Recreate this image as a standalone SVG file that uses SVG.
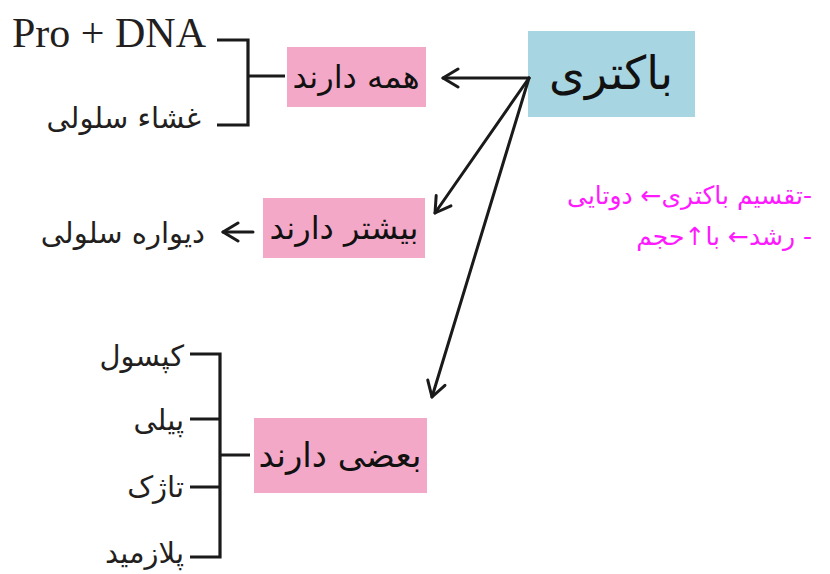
<svg xmlns="http://www.w3.org/2000/svg" width="830" height="574" viewBox="0 0 830 574">
<style>
.fa{font-family:"DejaVu Sans",sans-serif;fill:#231f20}
.lbl{font-family:"DejaVu Sans",sans-serif;fill:#111;font-size:32px;text-anchor:middle}
.ln{stroke:#1a1a1a;stroke-width:3.2;fill:none;stroke-linecap:butt;stroke-linejoin:miter}
.ar{stroke:#1a1a1a;stroke-width:3;fill:none;stroke-linecap:round;stroke-linejoin:round}
.pink{fill:#f4a8c7}
.mg{font-family:"DejaVu Sans",sans-serif;fill:#ff19ff;font-size:25px}
</style>
<defs>
<marker id="ah" viewBox="0 0 22 22" refX="20" refY="11" markerWidth="22" markerHeight="22" markerUnits="userSpaceOnUse" orient="auto">
<path d="M5,2 L20,11 L5,20" fill="none" stroke="#1a1a1a" stroke-width="3" stroke-linecap="round" stroke-linejoin="round"/>
</marker>
</defs>
<rect width="830" height="574" fill="#fff"/>

<g id="bacteria">
<rect x="528" y="31" width="167" height="86" fill="#a8d5e2"/>
<text class="lbl" x="611" y="89" style="font-size:46px">باکتری</text>
</g>

<g id="all-have">
<rect class="pink" x="287" y="47" width="139" height="60"/>
<text class="lbl" x="356" y="88">همه دارند</text>
</g>

<g id="most-have">
<rect class="pink" x="263" y="198" width="162" height="60"/>
<text class="lbl" x="344" y="239">بیشتر دارند</text>
</g>

<g id="some-have">
<rect class="pink" x="254" y="418" width="173" height="75"/>
<text class="lbl" x="340" y="467" style="font-size:34px">بعضی دارند</text>
</g>

<g id="pro-dna"><text x="12" y="47" style="font-family:'Liberation Serif',serif;font-size:42px;fill:#231f20">Pro + DNA</text></g>
<g id="membrane"><text class="fa" x="201" y="128" text-anchor="end" style="font-size:29px">غشاء سلولی</text></g>
<g id="wall"><text class="fa" x="205" y="243" text-anchor="end" style="font-size:29px">دیواره سلولی</text></g>
<g id="capsule"><text class="fa" x="184" y="366" text-anchor="end" style="font-size:29px">کپسول</text></g>
<g id="pili"><text class="fa" x="184" y="430" text-anchor="end" style="font-size:29px">پیلی</text></g>
<g id="flagellum"><text class="fa" x="184" y="497" text-anchor="end" style="font-size:29px">تاژک</text></g>
<g id="plasmid"><text class="fa" x="184" y="563" text-anchor="end" style="font-size:29px">پلازمید</text></g>

<g id="notes">
<text class="mg" x="812" y="204" direction="rtl" text-anchor="start">-تقسیم باکتری← دوتایی</text>
<text class="mg" x="812" y="245" direction="rtl" text-anchor="start">- رشد← با↑حجم</text>
</g>

<g id="connectors">
<path class="ln" d="M217,40 H248 V125 H217 M248,76 H285"/>
<path class="ln" d="M190,354 H220 V557 H190 M190,419 H220 M190,487 H220 M220,455 H250"/>
<path class="ar" d="M529,78 L443,78" marker-end="url(#ah)"/>
<path class="ar" d="M529,78 L435,213" marker-end="url(#ah)"/>
<path class="ar" d="M529,78 L432,397" marker-end="url(#ah)"/>
<path class="ar" d="M253,232 L223,232" marker-end="url(#ah)"/>
</g>
</svg>
